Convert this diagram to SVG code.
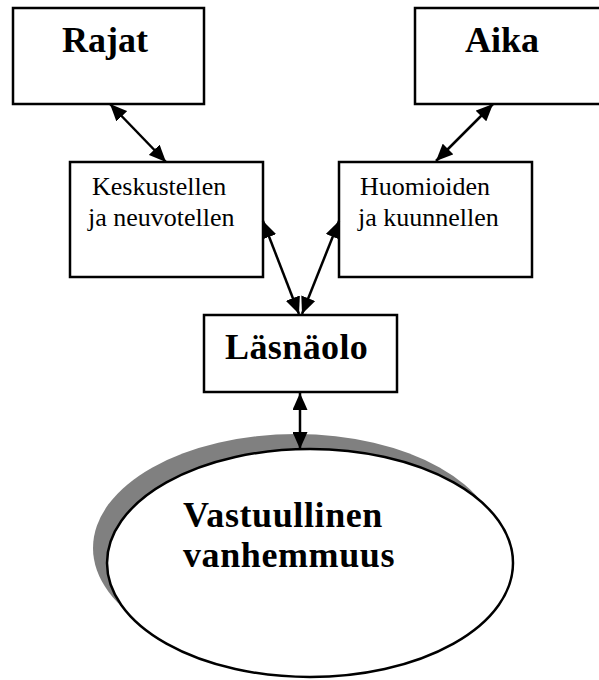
<svg xmlns="http://www.w3.org/2000/svg" width="599" height="680" viewBox="0 0 599 680">
<style>
.box{fill:#fff;stroke:#000;stroke-width:2.5}
.b{font-family:"Liberation Serif","Times New Roman",serif;font-weight:bold;font-size:36px;fill:#000}
.r{font-family:"Liberation Serif","Times New Roman",serif;font-size:26px;fill:#000}
.c{stroke:#000;stroke-width:2.5;fill:none;marker-start:url(#ah);marker-end:url(#ah)}
</style>
<defs>
<marker id="ah" viewBox="0 0 17 15" refX="17" refY="7.5" markerWidth="17" markerHeight="15" markerUnits="userSpaceOnUse" orient="auto-start-reverse">
<path d="M0,0 L17,7.5 L0,15 Z" fill="#000"/>
</marker>
</defs>
<rect width="599" height="680" fill="#fff"/>
<g id="rajat">
<rect class="box" x="13" y="8" width="191" height="96"/>
<text class="b" x="62" y="52">Rajat</text>
</g>
<g id="aika">
<rect class="box" x="415" y="8" width="200" height="96"/>
<text class="b" x="465" y="52">Aika</text>
</g>
<g id="keskustellen">
<rect class="box" x="70" y="162" width="193" height="115"/>
<text class="r" x="92" y="195">Keskustellen</text>
<text class="r" x="88" y="226">ja neuvotellen</text>
</g>
<g id="huomioiden">
<rect class="box" x="339" y="162" width="193" height="115"/>
<text class="r" x="360" y="195">Huomioiden</text>
<text class="r" x="358" y="226">ja kuunnellen</text>
</g>
<g id="lasnaolo">
<rect class="box" x="204" y="315" width="193" height="77"/>
<text class="b" x="225" y="359" letter-spacing="0.4">Läsnäolo</text>
</g>
<g id="vastuullinen">
<ellipse cx="296" cy="548" rx="203" ry="114" fill="#808080"/>
<ellipse cx="310" cy="563" rx="203" ry="114" fill="#fff" stroke="#000" stroke-width="2.5"/>
<text class="b" x="183" y="527" letter-spacing="0.6">Vastuullinen</text>
<text class="b" x="183" y="567" letter-spacing="0.6">vanhemmuus</text>
</g>
<g id="connectors">
<line class="c" x1="110" y1="104" x2="166" y2="162"/>
<line class="c" x1="493" y1="104" x2="436" y2="161"/>
<line class="c" x1="263" y1="221" x2="299" y2="314"/>
<line class="c" x1="339" y1="221" x2="302" y2="314"/>
<line class="c" x1="300" y1="393" x2="300" y2="449"/>
</g>
</svg>
